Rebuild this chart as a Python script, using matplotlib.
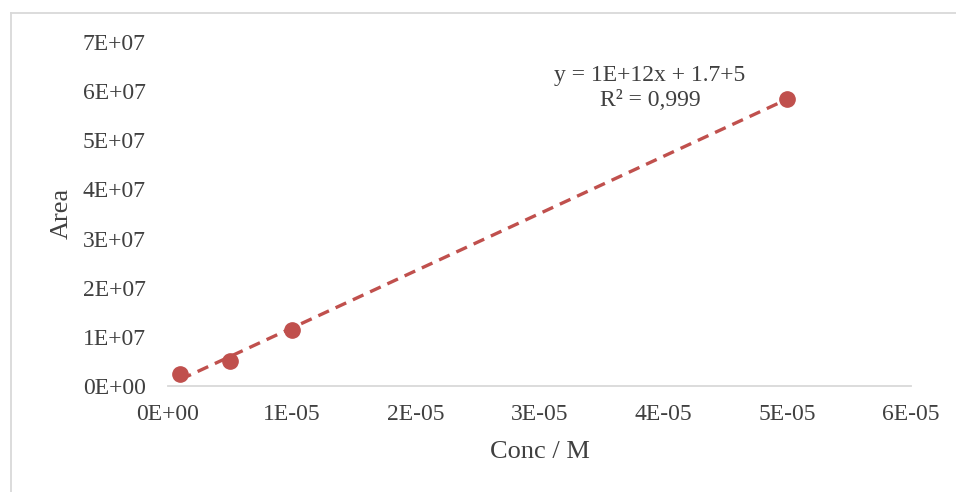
import numpy as np
import matplotlib
matplotlib.use("Agg")
import matplotlib.pyplot as plt
from matplotlib.lines import Line2D

# Calibration data
conc = [1e-6, 5e-6, 1e-5, 5e-5]            # M
area = [2.4e6, 5.1e6, 1.15e7, 5.85e7]

x_ticks = [0, 1e-5, 2e-5, 3e-5, 4e-5, 5e-5, 6e-5]
x_tick_labels = ["0E+00", "1E-05", "2E-05", "3E-05", "4E-05", "5E-05", "6E-05"]
y_ticks = [0, 1e7, 2e7, 3e7, 4e7, 5e7, 6e7, 7e7]
y_tick_labels = ["0E+00", "1E+07", "2E+07", "3E+07", "4E+07", "5E+07", "6E+07", "7E+07"]

eq_text = "y = 1E+12x + 1.7+5\nR² = 0,999"

plt.rcParams["font.family"] = ["Liberation Serif", "DejaVu Serif"]
red = "#C0504D"
text_col = "#404040"

fig = plt.figure(figsize=(9.56, 4.92), dpi=100)
ax = fig.add_axes([0.1757, 0.2154, 0.9530 - 0.1757, 0.9146 - 0.2154])

# Linear trendline over the data range
slope, intercept = np.polyfit(conc, area, 1)
xs = np.array([min(conc), max(conc)])
ax.plot(xs, slope * xs + intercept, color=red, lw=2.4, ls=(0, (3.5, 2.2)),
        zorder=2)
ax.plot(conc, area, "o", color=red, ms=11, zorder=3)

ax.set_xlim(0, 6e-5)
ax.set_ylim(0, 7e7)
ax.set_xticks(x_ticks)
ax.set_xticklabels(x_tick_labels)
ax.set_yticks(y_ticks)
ax.set_yticklabels(y_tick_labels)
ax.tick_params(axis="both", length=0, labelsize=17, colors=text_col)
ax.tick_params(axis="y", pad=16)
ax.tick_params(axis="x", pad=13)

for s in ["top", "right", "left"]:
    ax.spines[s].set_visible(False)
ax.spines["bottom"].set_color("#D9D9D9")
ax.spines["bottom"].set_linewidth(1.3)

fig.text(540 / 956, 1 - 452 / 492, "Conc / M", ha="center", va="center",
         fontsize=19, color=text_col)
fig.text(62 / 956, 1 - 213 / 492, "Area", ha="center", va="center",
         rotation=90, fontsize=19, color=text_col)

fig.text(650 / 956, 1 - 88 / 492, eq_text, ha="center", va="center",
         fontsize=17, color=text_col, linespacing=1.3,
         multialignment="center")

# Chart area frame
fig.add_artist(Line2D([10.5 / 956, 1], [1 - 12.5 / 492] * 2,
                      transform=fig.transFigure, color="#D9D9D9", lw=1.3))
fig.add_artist(Line2D([10.5 / 956] * 2, [0, 1 - 12.5 / 492],
                      transform=fig.transFigure, color="#D9D9D9", lw=1.3))

fig.savefig("out.png", dpi=100, facecolor="white")
